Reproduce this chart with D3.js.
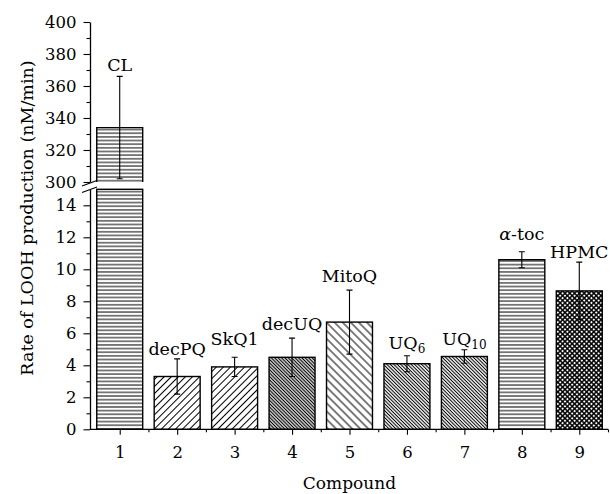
<!DOCTYPE html>
<html><head><meta charset="utf-8">
<script src="https://cdn.jsdelivr.net/npm/d3@7"></script>
<style>
html,body{margin:0;padding:0;background:#fff;}
svg text{font-family:"DejaVu Serif",serif;fill:#000;}
</style></head>
<body><svg id="chart" width="610" height="494"></svg>
<script>
// ---------------- data ----------------
const compounds = [1, 2, 3, 4, 5, 6, 7, 8, 9];
const names = ["CL", "decPQ", "SkQ1", "decUQ", "MitoQ", "UQ6", "UQ10", "α-toc", "HPMC"];
const rates = [334, 3.3, 3.9, 4.5, 6.7, 4.1, 4.55, 10.6, 8.65];
const errors = [32, 1.1, 0.6, 1.2, 2.0, 0.5, 0.42, 0.5, 1.8];
const labelAt = [369.5, 4.65, 5.25, 6.2, 9.2, 5.05, 5.25, 11.85, 10.7];
const patterns = ["hlines", "fwd", "fwd", "backDense", "backWide", "backFine", "backFine", "hlines", "cross"];
const lowTicks = [0, 2, 4, 6, 8, 10, 12, 14];
const highTicks = [300, 320, 340, 360, 380, 400];
const lowMax = 15;

// ---------------- layout ----------------
const svg = d3.select("#chart");
const x = d3.scaleLinear().domain([0.5, 9.5]).range([91, 608]);
const yLow = d3.scaleLinear().domain([0, lowMax]).range([429.3, 189.3]);
const yHigh = d3.scaleLinear().domain([300, 400]).range([182, 22]);
const barW = (x(2) - x(1)) * 0.8;
const yVal = v => v > lowMax ? yHigh(v) : yLow(v);

// ---------------- patterns ----------------
const defs = svg.append("defs");
function linePat(id, spacing, angle, sw) {
  const p = defs.append("pattern").attr("id", id)
    .attr("patternUnits", "userSpaceOnUse")
    .attr("width", 10).attr("height", spacing)
    .attr("patternTransform", `rotate(${angle})`);
  p.append("rect").attr("width", 10).attr("height", spacing).attr("fill", "#fff");
  p.append("line").attr("x1", 0).attr("x2", 10).attr("y1", spacing / 2).attr("y2", spacing / 2)
    .attr("stroke", "#000").attr("stroke-width", sw);
}
linePat("hlines", 3.65, 0, 1.0);
linePat("fwd", 5.0, -45, 1.0);
linePat("backDense", 2.4, 45, 1.25);
linePat("backWide", 5.7, 45, 1.0);
linePat("backFine", 2.45, 45, 1.05);
(function () {
  const s = 3.4;
  const p = defs.append("pattern").attr("id", "cross")
    .attr("patternUnits", "userSpaceOnUse")
    .attr("width", s).attr("height", s)
    .attr("patternTransform", "rotate(45)");
  p.append("rect").attr("width", s).attr("height", s).attr("fill", "#fff");
  p.append("line").attr("x1", 0).attr("x2", s).attr("y1", s / 2).attr("y2", s / 2)
    .attr("stroke", "#000").attr("stroke-width", 1.5);
  p.append("line").attr("y1", 0).attr("y2", s).attr("x1", s / 2).attr("x2", s / 2)
    .attr("stroke", "#000").attr("stroke-width", 1.5);
})();

const data = compounds.map((c, i) => ({c, name: names[i], v: rates[i], e: errors[i], lab: labelAt[i], pat: patterns[i]}));

// ---------------- bars ----------------
const bars = svg.append("g");
data.forEach(d => {
  const bx = x(d.c) - barW / 2;
  if (d.v > lowMax) {
    bars.append("rect").attr("x", bx).attr("width", barW)
      .attr("y", yLow(lowMax)).attr("height", yLow(0) - yLow(lowMax))
      .attr("fill", `url(#${d.pat})`).attr("stroke", "#000").attr("stroke-width", 1.4);
    bars.append("rect").attr("x", bx).attr("width", barW)
      .attr("y", yHigh(d.v)).attr("height", yHigh(300) - yHigh(d.v))
      .attr("fill", `url(#${d.pat})`).attr("stroke", "none");
    bars.append("path")
      .attr("d", `M${bx},${yHigh(300)}V${yHigh(d.v)}H${bx + barW}V${yHigh(300)}`)
      .attr("fill", "none").attr("stroke", "#000").attr("stroke-width", 1.4);
  } else {
    bars.append("rect").attr("x", bx).attr("width", barW)
      .attr("y", yLow(d.v)).attr("height", yLow(0) - yLow(d.v))
      .attr("fill", `url(#${d.pat})`).attr("stroke", "#000").attr("stroke-width", 1.4);
  }
  const top = yVal(d.v + d.e), bot = yVal(d.v - d.e), cx = x(d.c), cw = 3;
  bars.append("path")
    .attr("d", `M${cx},${top}V${bot}M${cx - cw},${top}H${cx + cw}M${cx - cw},${bot}H${cx + cw}`)
    .attr("fill", "none").attr("stroke", "#000").attr("stroke-width", 1.1);
  const t = bars.append("text").attr("x", cx).attr("y", yVal(d.lab))
    .attr("text-anchor", "middle").attr("font-size", 17.5);
  const m = d.name.match(/^UQ(\d+)$/);
  if (m) {
    t.append("tspan").text("UQ");
    t.append("tspan").attr("font-size", 12).attr("dy", 4).text(m[1]);
  } else if (d.name.startsWith("α")) {
    t.append("tspan").attr("font-style", "italic").text("α");
    t.append("tspan").text(d.name.slice(1));
  } else {
    t.text(d.name);
  }
});

// ---------------- axes ----------------
const axX = 90;
const axisStyle = g => {
  g.selectAll("path.domain").attr("stroke", "#000").attr("stroke-width", 1.3);
  g.selectAll(".tick line").attr("stroke", "#000").attr("stroke-width", 1.1);
  g.selectAll(".tick text").attr("font-family", "DejaVu Serif").attr("font-size", 16.5).attr("fill", "#000");
};
const gLow = svg.append("g").attr("transform", `translate(${axX},0)`)
  .call(d3.axisLeft(yLow).tickValues(lowTicks).tickSize(6.5).tickSizeOuter(0).tickPadding(7));
axisStyle(gLow);
svg.append("g").attr("transform", `translate(${axX},0)`)
  .call(d3.axisLeft(yLow).tickValues(d3.range(1, lowMax, 2)).tickSize(3.5).tickFormat(""))
  .call(g => g.select("path.domain").remove())
  .call(axisStyle);
const gHigh = svg.append("g").attr("transform", `translate(${axX},0)`)
  .call(d3.axisLeft(yHigh).tickValues(highTicks).tickSize(6.5).tickSizeOuter(0).tickPadding(7));
axisStyle(gHigh);
svg.append("g").attr("transform", `translate(${axX},0)`)
  .call(d3.axisLeft(yHigh).tickValues(d3.range(310, 400, 20)).tickSize(3.5).tickFormat(""))
  .call(g => g.select("path.domain").remove())
  .call(axisStyle);
const gX = svg.append("g").attr("transform", `translate(0,${yLow(0)})`)
  .call(d3.axisBottom(x).tickValues(compounds).tickSize(5.5).tickSizeOuter(0).tickPadding(11));
axisStyle(gX);
gX.select("path.domain").attr("d", `M${axX},0H${x(9.5)}`);
svg.append("g").attr("transform", `translate(0,${yLow(0)})`)
  .call(d3.axisBottom(x).tickValues(d3.range(1.5, 9.6, 1)).tickSize(3).tickFormat(""))
  .call(g => g.select("path.domain").remove())
  .call(axisStyle);

// break marks
const bk = svg.append("g").attr("stroke", "#000").attr("stroke-width", 1.1);
bk.append("line").attr("x1", axX - 8).attr("y1", 186).attr("x2", axX + 7).attr("y2", 180.5);
bk.append("line").attr("x1", axX - 8).attr("y1", 192.5).attr("x2", axX + 7).attr("y2", 187);

// axis titles
svg.append("text").attr("x", x(5)).attr("y", 489).attr("text-anchor", "middle")
  .attr("font-size", 17).text("Compound");
svg.append("text").attr("transform", `translate(27,218) rotate(-90)`)
  .attr("text-anchor", "middle").attr("dy", "0.35em").attr("font-size", 17.5)
  .text("Rate of LOOH production (nM/min)");
</script></body></html>
